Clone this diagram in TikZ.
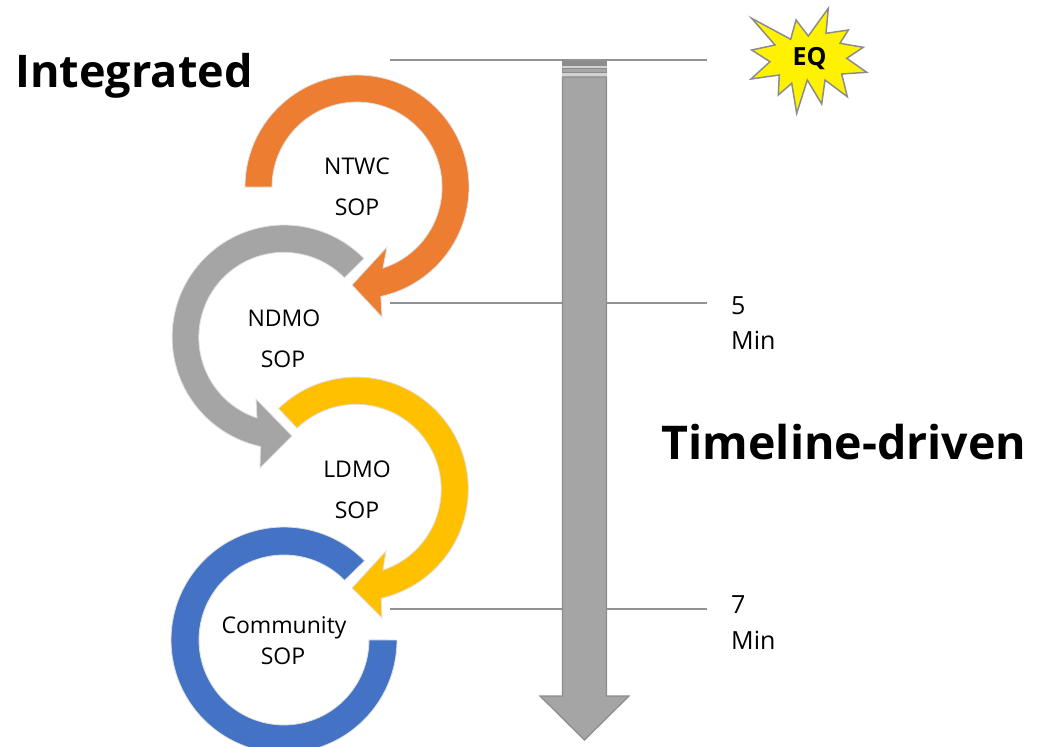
\documentclass[tikz,border=0pt]{standalone}
\usepackage{fontspec}
\setmainfont{Open Sans}
\usepackage{tikz}
\definecolor{ntwcorange}{HTML}{ED7D31}
\definecolor{ndmogray}{HTML}{A5A5A5}
\definecolor{ldmoyellow}{HTML}{FFC000}
\definecolor{commblue}{HTML}{4472C4}
\definecolor{edgegray}{HTML}{8C8C8C}
\tikzstyle{ring} = [draw=black!12, line width=0.8pt]
\tikzstyle{label} = [inner sep=0, font=\fontsize{23}{27}\selectfont]
\tikzstyle{minute} = [inner sep=0, anchor=west, font=\fontsize{25}{29}\selectfont]
\tikzstyle{title} = [inner sep=0, font=\bfseries\fontsize{45}{54}\selectfont]
\tikzstyle{tick} = [draw=edgegray!95, line width=1.2pt]
\tikzstyle{timeline} = [draw=edgegray, fill=ndmogray, line width=1.2pt]

\begin{document}
\begin{tikzpicture}[x=1pt, y=1pt]
	\clip (0, 0) rectangle (1042, -747);

	% ticks behind the timeline
	\coordinate (TickTopIn) at (390, -60);
	\coordinate (TickTopOut) at (707, -60);
	\draw [tick] (TickTopIn) -- (TickTopOut);
	\coordinate (TickFiveIn) at (390, -303);
	\coordinate (TickFiveOut) at (707, -303);
	\draw [tick] (TickFiveIn) -- (TickFiveOut);
	\coordinate (TickSevenIn) at (390, -609);
	\coordinate (TickSevenOut) at (707, -609);
	\draw [tick] (TickSevenIn) -- (TickSevenOut);

	% the timeline
	\fill [black!18] (562, -61) rectangle (607, -78);
	\draw [timeline, draw=none, fill=edgegray] (562, -61) rectangle (607, -66);
	\draw [timeline] (562.5, -68.5) rectangle (606.5, -72.5);
	\draw [timeline] (562.5, -77) -- (606.5, -77) -- (606.5, -696) -- (629, -696)
		-- (584.5, -740) -- (540, -696) -- (562.5, -696) -- cycle;

	% community
	\fill [commblue, ring] (397, -640) arc[start angle=0, end angle=-315.5, radius=113pt]
		-- (344.6, -580.4) arc[start angle=44.5, end angle=360, radius=85pt] -- cycle;

	% ldmo
	\fill [ldmoyellow, ring] (278.5, -408.5) arc[start angle=134, end angle=-77.2, radius=112pt]
		-- (382, -618) -- (352, -588) -- (386, -551)
		-- (383, -570) arc[start angle=-71.6, end angle=134, radius=85pt] -- cycle;

	% ndmo
	\fill [ndmogray, ring] (364, -258.5) arc[start angle=44.5, end angle=257.8, radius=112pt]
		-- (260, -468) -- (292, -436) -- (256, -399)
		-- (257, -418) arc[start angle=251.6, end angle=44.5, radius=85pt] -- cycle;

	% ntwc
	\fill [ntwcorange, ring] (245, -187) arc[start angle=180, end angle=-77.7, radius=112pt]
		-- (382, -317) -- (352, -285) -- (387, -247)
		-- (383, -268) arc[start angle=-72.2, end angle=180, radius=85pt] -- cycle;

	% the burst
	\draw [fill=yellow, draw=edgegray, line width=1.5pt]
		(751.7, -18.3) -- (790.7, -39.3) -- (796, -20) -- (808.3, -36) -- (828.3, -8.3)
		-- (826, -33.3) -- (848.3, -30) -- (840, -43.3) -- (863.3, -47.3) -- (846.7, -58.3)
		-- (866.7, -72.3) -- (841.7, -74) -- (847.3, -96.7) -- (825, -80) -- (821.7, -104)
		-- (807.3, -80) -- (796.7, -113.3) -- (791.7, -83.3) -- (778.3, -95) -- (779.3, -75)
		-- (751, -79) -- (770, -61.7) -- (751.7, -50) -- (775, -45) -- cycle;
	\node (Burst) [inner sep=0, font=\bfseries\fontsize{25}{29}\selectfont] at (809.5, -59) {EQ};

	% titles
	\node (Integrated) [title] at (134, -76) {Integrated};
	\node (Timeline) [title, font=\bfseries\fontsize{46.5}{55}\selectfont] at (844, -442) {Timeline-driven};

	% ring labels
	\node (Ntwc) [label] at (357, -166) {NTWC};
	\node (NtwcSop) [label] at (357, -207.5) {SOP};
	\node (Ndmo) [label] at (284, -318) {NDMO};
	\node (NdmoSop) [label] at (283, -359) {SOP};
	\node (Ldmo) [label] at (357, -469) {LDMO};
	\node (LdmoSop) [label] at (357, -510) {SOP};
	\node (Community) [label] at (284, -628) {Community};
	\node (CommunitySop) [label] at (283, -656.5) {SOP};

	% minutes
	\node (Five) [minute] at (731, -306) {5};
	\node (FiveMin) [minute] at (731, -340) {Min};
	\node (Seven) [minute] at (731, -605) {7};
	\node (SevenMin) [minute] at (731, -640) {Min};
\end{tikzpicture}
\end{document}
